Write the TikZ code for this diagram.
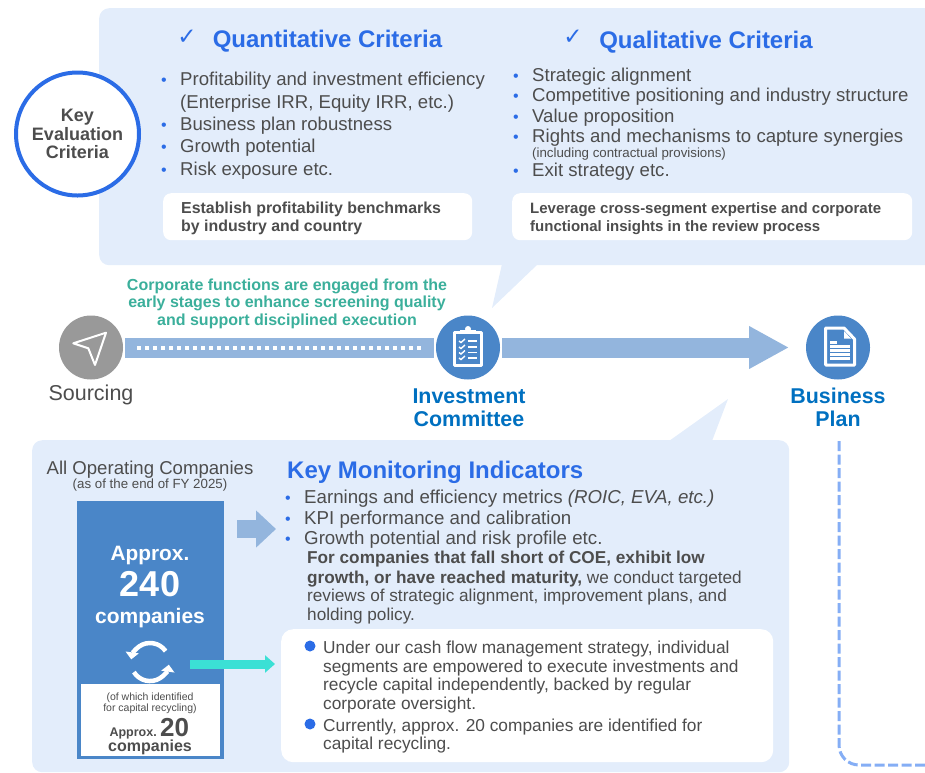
\documentclass[tikz,border=0pt]{standalone}
\usepackage{fontspec}
\setmainfont{Liberation Sans}
\newfontfamily\symfont{DejaVu Sans}
\usetikzlibrary{arrows.meta}
\definecolor{panelblue}{HTML}{E3EDFB}
\definecolor{midblue}{HTML}{4A86C8}
\definecolor{lightblue}{HTML}{93B5DD}
\definecolor{brightblue}{HTML}{2B6CE6}
\definecolor{deepblue}{HTML}{0070C0}
\definecolor{teal}{HTML}{3BAF9B}
\definecolor{aqua}{HTML}{3BE0D5}
\definecolor{textgray}{HTML}{4D4D4D}
\definecolor{stonegray}{HTML}{999999}
\definecolor{dashblue}{HTML}{85AEF5}

\begin{document}
\begin{tikzpicture}[x=1pt,y=-1pt,
panel/.style={rounded corners=10pt,fill=panelblue,anchor=north west,inner sep=0pt},
whitebox/.style={rounded corners=8pt,fill=white,anchor=north west,inner sep=0pt},
item/.style={anchor=base west,inner sep=0pt,text=textgray,font=\fontsize{18.6}{20}\selectfont},
lower/.style={item,font=\fontsize{18.7}{20}\selectfont},
para/.style={item,font=\fontsize{17.2}{19}\selectfont},
cash/.style={item,font=\fontsize{17.3}{19}\selectfont},
bulletmark/.style={anchor=base,inner sep=0pt,text=brightblue,font=\fontsize{16}{16}\selectfont},
heading/.style={anchor=base,inner sep=0pt,text=brightblue,font=\fontsize{24}{26}\bfseries\selectfont},
ticked/.style={anchor=base,inner sep=0pt,text=brightblue,font=\fontsize{23}{23}\symfont},
notetext/.style={anchor=base west,inner sep=0pt,text=textgray,font=\fontsize{15.9}{17}\bfseries\selectfont},
stage/.style={circle,minimum size=64pt,inner sep=0pt,outer sep=2pt,fill=midblue},
stagename/.style={anchor=base,inner sep=0pt,text=deepblue,align=center,font=\fontsize{21.4}{23}\bfseries\selectfont},
centred/.style={anchor=base,inner sep=0pt,text=textgray},
whitecentred/.style={anchor=base,inner sep=0pt,text=white},
band/.style={line width=20pt,draw=lightblue},
bigarrow/.style={line width=20pt,draw=lightblue,-{Triangle[length=40pt,width=40pt]}},
icon/.style={white,line width=3pt,line join=round}]
\useasboundingbox (0,0) rectangle (925,772);
\clip (0,0) rectangle (925,772);

% top panel
\node (criteria)[panel,minimum width=850pt,minimum height=257pt] at (99,8) {};
\fill[panelblue] (502,264) -- (492,308) -- (538,264) -- cycle;
\node (key)[circle,draw=brightblue,line width=4pt,fill=white,minimum size=123pt,inner sep=0pt,align=center,text=textgray,font=\fontsize{18}{18.5}\bfseries\selectfont] at (77.5,134) {Key\\Evaluation\\Criteria};

\node (quanttick)[ticked] at (187,44) {✓};
\node (quant)[heading] at (327.5,47) {Quantitative Criteria};
\node (qualtick)[ticked] at (573,44) {✓};
\node (qual)[heading] at (706,48) {Qualitative Criteria};

% left list
\node (qd1)[bulletmark] at (164,85) {•};
\node (q1)[item] at (180,85) {Profitability and investment efficiency};
\node (q1b)[item] at (180,108) {(Enterprise IRR, Equity IRR, etc.)};
\node (qd2)[bulletmark] at (164,130) {•};
\node (q2)[item] at (180,130) {Business plan robustness};
\node (qd3)[bulletmark] at (164,152) {•};
\node (q3)[item] at (180,152) {Growth potential};
\node (qd4)[bulletmark] at (164,175) {•};
\node (q4)[item] at (180,175) {Risk exposure etc.};
\node (bench)[whitebox,minimum width=309pt,minimum height=47pt] at (163,193) {};
\node (bench1)[notetext] at (181,213) {Establish profitability benchmarks};
\node (bench2)[notetext] at (181,231) {by industry and country};

% right list
\node (sd1)[bulletmark] at (516,81) {•};
\node (s1)[item] at (532,81) {Strategic alignment};
\node (sd2)[bulletmark] at (516,101) {•};
\node (s2)[item] at (532,101) {Competitive positioning and industry structure};
\node (sd3)[bulletmark] at (516,122) {•};
\node (s3)[item] at (532,122) {Value proposition};
\node (sd4)[bulletmark] at (516,142) {•};
\node (s4)[item] at (532,142) {Rights and mechanisms to capture synergies};
\node (s4b)[item,font=\fontsize{13.3}{15}\selectfont] at (532,157) {(including contractual provisions)};
\node (sd5)[bulletmark] at (516,176) {•};
\node (s5)[item] at (532,176) {Exit strategy etc.};
\node (lever)[whitebox,minimum width=400pt,minimum height=47pt] at (512,193) {};
\node (lever1)[notetext,font=\fontsize{15}{17}\bfseries\selectfont] at (530,213) {Leverage cross-segment expertise and corporate};
\node (lever2)[notetext,font=\fontsize{15}{17}\bfseries\selectfont] at (530,231) {functional insights in the review process};

% process line
\node (engage)[anchor=base,inner sep=0pt,align=center,text=teal,font=\fontsize{16}{17.2}\bfseries\selectfont] at (287,325) {Corporate functions are engaged from the\\early stages to enhance screening quality\\and support disciplined execution};
\node (sourcing)[stage,fill=stonegray] at (91,347.5) {};
\node (committee)[stage] at (468,347.5) {};
\node (plan)[stage] at (838,347.5) {};
\draw [band] (sourcing) -- (committee);
\draw [white,line width=4pt,dash pattern=on 4pt off 4pt,shorten <=12pt,shorten >=13pt] (sourcing) -- (committee);
\draw [bigarrow,shorten >=15pt] (committee) -- (plan);
\node (sourcingname)[centred,font=\fontsize{21.5}{23}\selectfont] at (91,400) {Sourcing};
\node (committeename)[stagename] at (469,426) {Investment\\Committee};
\node (planname)[stagename] at (838,426) {Business\\Plan};

% icons
\draw [icon,line width=2pt] (73.3,343.3) -- (106,332.7) -- (95,365) -- (88.3,348.3) -- cycle;
\draw [icon] (454,332) rectangle (481.5,365);
\fill[white] (460,330) rectangle (476,334);
\fill[white] (468,329) circle (3pt);
\foreach \y in {341,347,352.5,358} {
  \draw [white,line width=1.4pt] (459,\y) -- (461,\y+1.5) -- (465,\y-2);
  \draw [white,line width=1.6pt] (468,\y) -- (477,\y);
}
\draw [icon] (825.5,328) -- (844,328) -- (854.5,339) -- (854.5,365) -- (825.5,365) -- cycle;
\fill[white] (844,331) -- (851,338.5) -- (844,338.5) -- cycle;
\fill[white] (830,341) rectangle (837,343.5);
\foreach \y in {345,349,353,357} {
  \fill[white] (830,\y) rectangle (850,\y+2.5);
}

% lower panel
\node (monitor)[panel,minimum width=757pt,minimum height=332pt] at (32,440) {};
\fill[panelblue] (669,441) -- (728,399) -- (712,441) -- cycle;
\node (allcos)[centred,font=\fontsize{18.6}{20}\selectfont] at (150,474) {All Operating Companies};
\node (asof)[centred,font=\fontsize{13.3}{15}\selectfont] at (150,488) {(as of the end of FY 2025)};
\node (companies)[fill=midblue,anchor=north west,inner sep=0pt,minimum width=147pt,minimum height=258pt] at (77,501) {};
\node (recyclebox)[fill=white,anchor=north west,inner sep=0pt,minimum width=139pt,minimum height=72pt] at (81,684) {};
\node (approx)[whitecentred,font=\fontsize{20.8}{22}\bfseries\selectfont] at (150,560) {Approx.};
\node (count)[whitecentred,font=\fontsize{36}{38}\bfseries\selectfont] at (150,596) {240};
\node (cos)[whitecentred,font=\fontsize{21}{23}\bfseries\selectfont] at (150,623) {companies};
\draw [white,line width=4.5pt,-{Triangle[length=7pt,width=13pt]}] (165.6,651.1) arc (-35:-172:19);
\draw [white,line width=4.5pt,-{Triangle[length=7pt,width=13pt]}] (133.9,672.1) arc (-212:-352:19);
\node (ofwhich)[centred,font=\fontsize{10.5}{12}\selectfont] at (150,700) {(of which identified};
\node (forcap)[centred,font=\fontsize{10.5}{12}\selectfont] at (150,711) {for capital recycling)};
\node (approxb)[centred,anchor=base east,font=\fontsize{12.5}{14}\bfseries\selectfont] at (157,736) {Approx.};
\node (countb)[centred,anchor=base west,font=\fontsize{26}{28}\bfseries\selectfont] at (160,736) {20};
\node (cosb)[centred,font=\fontsize{16}{17}\bfseries\selectfont] at (150,751) {companies};

\coordinate (kpistart) at (237,529);
\coordinate (kpitip) at (276,529);
\coordinate (aquastart) at (190,664);
\draw [line width=18pt,draw=lightblue,-{Triangle[length=20pt,width=36pt]}] (kpistart) -- (kpitip);

\node (kmi)[heading,anchor=base west] at (287,478) {Key Monitoring Indicators};
\node (kd1)[bulletmark] at (288,503) {•};
\node (k1)[lower] at (304,503) {Earnings and efficiency metrics \textit{(ROIC, EVA, etc.)}};
\node (kd2)[bulletmark] at (288,524) {•};
\node (k2)[lower] at (304,524) {KPI performance and calibration};
\node (kd3)[bulletmark] at (288,544) {•};
\node (k3)[lower] at (304,544) {Growth potential and risk profile etc.};
\node (p1)[para,font=\fontsize{17.2}{19}\bfseries\selectfont] at (307,563) {For companies that fall short of COE, exhibit low};
\node (p2)[para] at (307,583) {\textbf{growth, or have reached maturity,} we conduct targeted};
\node (p3)[para] at (307,601) {reviews of strategic alignment, improvement plans, and};
\node (p4)[para] at (307,620) {holding policy.};

\node (cashbox)[whitebox,rounded corners=12pt,minimum width=492pt,minimum height=133pt] at (281,629) {};
\draw [aqua,line width=9pt,-{Triangle[length=10pt,width=17pt]},shorten >=6pt] (aquastart) -- (cashbox.west |- aquastart);
\node (cd1)[circle,fill=brightblue,minimum size=11pt,inner sep=0pt] at (310,646) {};
\node (c1)[cash] at (323,653) {Under our cash flow management strategy, individual};
\node (c2)[cash] at (323,672) {segments are empowered to execute investments and};
\node (c3)[cash] at (323,690) {recycle capital independently, backed by regular};
\node (c4)[cash] at (323,709) {corporate oversight.};
\node (cd2)[circle,fill=brightblue,minimum size=11pt,inner sep=0pt] at (310,724) {};
\node (c5)[cash] at (323,731) {Currently, approx. 20 companies are identified for};
\node (c6)[cash] at (323,749) {capital recycling.};

% dashed line on to the next stage
\coordinate (dashstart) at (839,441);
\coordinate (dashend) at (925,765);
\draw [dashblue,line width=3pt,dash pattern=on 10pt off 3.5pt,rounded corners=20pt] (dashstart) |- (dashend);
\end{tikzpicture}
\end{document}
